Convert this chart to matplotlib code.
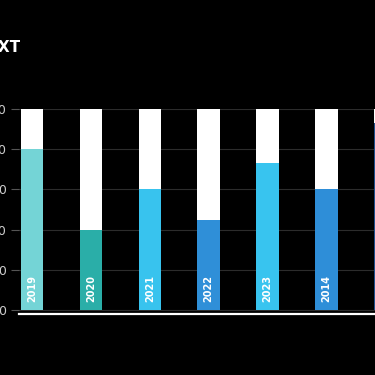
import matplotlib.pyplot as plt
import numpy as np

# data (percent filled, on a 0-100 track)
years = ["2019", "2020", "2021", "2022", "2023", "2014", "2015"]
values = [80, 40, 60, 45, 73, 60, 93]
colors = ["#74d4d6", "#2aaea8", "#38c3ee", "#2f8fd8", "#38c4ef", "#2e8ed8", "#1f4f8c"]
yticks = [0, 20, 40, 60, 80, 100]
title = "TEXT"

W, H = 375, 375
fig = plt.figure(figsize=(W / 100, H / 100), dpi=100)
fig.patch.set_facecolor("black")

# the chart is wider than the canvas, so the axes run past the right edge
left_px, right_px = 19, 450
bottom_px, top_px = 314, 109
ax = fig.add_axes([left_px / W, 1 - bottom_px / H,
                   (right_px - left_px) / W, (bottom_px - top_px) / H])
ax.set_facecolor("black")

spacing = 58.9
x = np.arange(len(years))
ax.set_xlim((left_px - 32) / spacing, (right_px - 32) / spacing)
ax.set_ylim(-2, 100)

width = 22.5 / spacing
ax.bar(x, [100] * len(x), width=width, color="white", zorder=2)
ax.bar(x, values, width=width, color=colors, zorder=3)

for xi, yr in zip(x, years):
    ax.text(xi, 10.5, yr, rotation=90, ha="center", va="center",
            color="white", fontsize=7, fontweight="bold", zorder=4)

ax.set_yticks(yticks)
ax.set_xticks([])
ax.grid(axis="y", color="#2c2c2c", linewidth=0.8, zorder=0)
ax.tick_params(axis="y", colors="#cccccc", length=6, width=0.8,
               labelsize=9, pad=3)
ax.tick_params(axis="y", color="#555555")

for side in ["left", "right", "top"]:
    ax.spines[side].set_visible(False)
ax.spines["bottom"].set_color("white")
ax.spines["bottom"].set_linewidth(1.6)

fig.text(20.5 / W, 1 - 47.5 / H, title, ha="right", va="center",
         color="white", fontsize=11, fontweight="bold")

fig.savefig("out.png", dpi=100, facecolor="black")
